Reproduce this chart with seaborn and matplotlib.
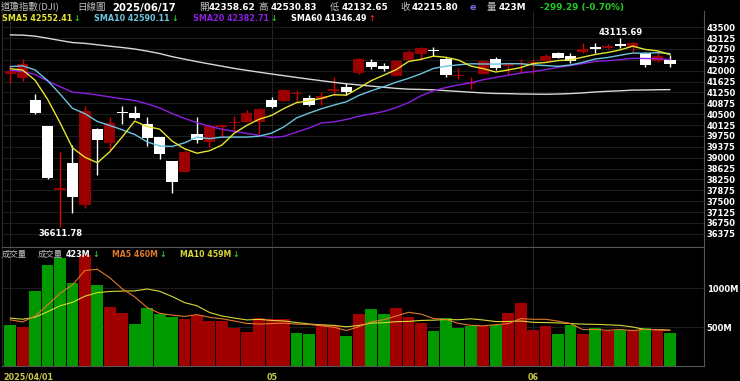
import numpy as np
import pandas as pd
import matplotlib
matplotlib.use("Agg")
import matplotlib.pyplot as plt
import seaborn as sns

# 道瓊指數 日線 2025/04/01 ~ 2025/06/17

tick_pos = [0, 21, 42]
tick_labels = ["2025/04/01", "05", "06"]

# 2025/01/03 ~ 2025/03/31 收盤 (只用來算均線)
prev_close = [42732.13, 42706.56, 42528.36, 42635.20, 41938.45, 42297.12, 42518.28, 43221.55,
              43153.13, 43487.83, 44025.81, 44156.73, 44565.07, 44424.25, 44713.58, 44850.35,
              44713.52, 44882.13, 44544.66,
              44421.91, 44556.04, 44873.28, 44747.63, 44303.40, 44470.41, 44593.65, 44368.56,
              44711.43, 44546.08, 44556.34, 44627.59, 44176.65, 43428.02, 43461.21, 43621.16,
              43433.12, 43239.50, 43840.91,
              43191.24, 42520.99, 43006.59, 42579.08, 42801.72, 41911.71, 41433.48, 41350.93,
              40813.57, 41488.19, 41841.63, 41581.31, 41964.63, 41953.32, 41985.35, 42583.32,
              42587.50, 42454.79, 42299.70, 41583.90, 42001.76]
prev_volume = [650, 700, 600, 620, 620, 640, 580, 600, 629]

opens = [41880, 41750, 40990, 40090, 37880, 38830, 37370, 40000, 39500, 40590,
         40530, 40160, 39720, 38900, 38520, 39820, 39550, 40060, 40180, 40240,
         40240, 40990, 40970, 41200, 41050, 41010, 41300, 41450, 41910, 42300,
         42150, 41820, 42370, 42580, 42720, 42390, 41800, 41550, 41890, 42390,
         42150, 42230, 42250, 42340, 42600, 42510, 42650, 42800, 42780, 42920,
         42800, 42620, 42320, 42358.62]
highs = [42190, 42390, 41200, 40100, 39200, 39440, 40780, 40010, 40390, 40780,
         40780, 40390, 39730, 38900, 39270, 40390, 40160, 40130, 40440, 40640,
         40700, 41100, 41380, 41330, 41160, 41275, 41790, 41560, 42430, 42400,
         42260, 42370, 42700, 42830, 42830, 42460, 42080, 41790, 42370, 42460,
         42260, 42390, 42390, 42560, 42650, 42620, 42940, 42940, 42930, 43115.69,
         42990, 42630, 42650, 42530.83]
lows = [41570, 41650, 40520, 38260, 36611.78, 37100, 37250, 38410, 39260, 40160,
        40320, 39400, 38940, 37800, 38510, 39490, 39380, 39720, 39900, 40230,
        39800, 40700, 40960, 40920, 40780, 40816, 41160, 41160, 41900, 42060,
        42000, 41800, 42360, 42370, 42500, 41790, 41700, 41370, 41880, 42040,
        41850, 41910, 41880, 42320, 42420, 42250, 42620, 42600, 42760, 42770,
        42650, 42110, 42300, 42132.65]
closes = [41989.96, 42225.32, 40545.93, 38314.86, 37965.60, 37645.59, 40608.45, 39593.66,
          40212.71, 40524.79, 40368.96, 39669.39, 39142.23, 38170.41, 39186.98, 39606.57,
          40093.40, 40113.50, 40227.59, 40527.62, 40669.36,
          40752.96, 41317.43, 41218.83, 40829.00, 41113.97, 41368.45, 41249.38, 42410.10,
          42140.43, 42051.06, 42322.75, 42654.74, 42792.07, 42677.24, 41860.44, 41859.09,
          41603.07, 42343.65, 42098.70, 42215.73, 42270.07,
          42305.48, 42519.64, 42427.74, 42319.74, 42762.87, 42761.76, 42866.87, 42865.77,
          42967.62, 42197.79, 42515.09, 42215.80]
# 成交量 (M)
volume = [521, 504, 960, 1301, 1386, 1063, 1430, 1037, 753, 681,
          543, 745, 668, 633, 598, 659, 573, 573, 491, 443,
          616, 607, 598, 430, 417, 534, 513, 388, 668, 736,
          672, 745, 633, 551, 452, 616, 487, 508, 517, 530,
          681, 810, 465, 517, 412, 530, 412, 483, 453, 468,
          464, 485, 460, 423]

# 計算均線
df = pd.DataFrame({"o": opens, "h": highs, "l": lows, "c": closes, "v": volume})
df["x"] = np.arange(len(df))
all_close = pd.Series(prev_close + closes)
npc = len(prev_close)
for n in (5, 10, 20, 60):
    df[f"sma{n}"] = all_close.rolling(n).mean().iloc[npc:].to_numpy()
all_vol = pd.Series(prev_volume + volume)
npv = len(prev_volume)
df["vma5"] = all_vol.rolling(5).mean().iloc[npv:].to_numpy()
df["vma10"] = all_vol.rolling(10).mean().iloc[npv:].to_numpy()
df["chg"] = np.where(all_close.diff().iloc[npc:].to_numpy() > 0, "up", "down")

# 顏色
BODY_RED = "#9a0000"
WICK_RED = "#e00000"
VOL_RED = "#a00000"
VOL_GREEN = "#009a00"
C_SMA5, C_SMA10, C_SMA20, C_SMA60 = "#e5e52e", "#6cc4e0", "#8c1fe0", "#d8d8d8"
C_VMA5, C_VMA10 = "#e07a2a", "#d8d838"
GRAY = "#c0c0c0"
DOWN_G = "#22cc22"

sns.set_theme(style="dark", rc={"axes.facecolor": "black", "figure.facecolor": "black"})
plt.rcParams["font.family"] = ["DejaVu Sans", "Noto Sans CJK TC"]

W, H = 740, 381
fig = plt.figure(figsize=(W / 100, H / 100), dpi=100, facecolor="black")


def fx(x):
    return x / W


def fy(y):
    return 1 - y / H


ax = fig.add_axes([fx(2), fy(247), (704 - 2) / W, (247 - 11) / H])
axv = fig.add_axes([fx(2), fy(366), (704 - 2) / W, (366 - 247) / H])

# K線
up = (df.c >= df.o).to_numpy()
diff = (df.c - df.o).abs()
mid = (df.c + df.o) / 2
body_h = np.maximum(diff, 45)
body_lo = np.where(diff < 45, mid - 22.5, np.minimum(df.o, df.c))
ax.vlines(df.x[up], df.l[up], df.h[up], color=WICK_RED, lw=1.0, zorder=2)
ax.vlines(df.x[~up], df.l[~up], df.h[~up], color="white", lw=1.0, zorder=2)
ax.bar(df.x, body_h, bottom=body_lo, width=0.9, color=np.where(up, BODY_RED, "white"),
       linewidth=0, zorder=3)

for col, c in [("sma60", C_SMA60), ("sma20", C_SMA20), ("sma10", C_SMA10), ("sma5", C_SMA5)]:
    sns.lineplot(data=df, x="x", y=col, color=c, lw=1.0, ax=ax, zorder=4)

ax.annotate("43115.69", xy=(49, 43115.69), xytext=(0, 1), textcoords="offset points",
            ha="center", va="bottom", color="white", fontsize=6, fontweight="bold")
ax.annotate("36611.78", xy=(4, 36611.78), xytext=(0, -1.5), textcoords="offset points",
            ha="center", va="top", color="white", fontsize=6, fontweight="bold")

# 成交量
sns.barplot(data=df, x="x", y="v", hue="chg", palette={"up": VOL_RED, "down": VOL_GREEN},
            native_scale=True, width=0.95, errorbar=None, legend=False, saturation=1,
            linewidth=0, ax=axv)
sns.lineplot(data=df, x="x", y="vma10", color=C_VMA10, lw=0.8, ax=axv, zorder=4)
sns.lineplot(data=df, x="x", y="vma5", color=C_VMA5, lw=0.8, ax=axv, zorder=4)

# 座標軸
ax.set_ylim(35921.8, 44056.7)
ax.set_yticks(np.arange(36375, 43501, 375))
ax.set_yticklabels([str(v) for v in np.arange(36375, 43501, 375)])
axv.set_ylim(0, 1530)
axv.set_yticks([500, 1000])
axv.set_yticklabels(["500M", "1000M"])

for a in (ax, axv):
    a.set_facecolor("black")
    a.set_xlim(-0.66, 55.73)
    a.set_xticks(tick_pos)
    a.yaxis.tick_right()
    a.tick_params(axis="y", colors="white", labelsize=6, length=0, pad=2)
    for lbl in a.get_yticklabels():
        lbl.set_fontweight("bold")
    a.grid(axis="y", color="#1e1e1e", lw=0.7)
    a.grid(axis="x", color="#262626", lw=0.7)
    a.set_xlabel("")
    a.set_ylabel("")
    for s in ("left", "right", "top", "bottom"):
        a.spines[s].set_visible(True)
        a.spines[s].set_linewidth(0.8)
    a.spines["left"].set_color("#2a2a2a")
    a.spines["right"].set_color("#555555")
    a.spines["bottom"].set_color("#555555")
    a.spines["top"].set_color("#555555")
ax.spines["top"].set_visible(False)
ax.tick_params(axis="x", length=0, labelbottom=False)
axv.set_xticklabels(["", tick_labels[1], tick_labels[2]])
axv.tick_params(axis="x", colors="#555555", labelcolor="#c8c84a", labelsize=5.8, length=2, pad=3)
for lbl in axv.get_xticklabels():
    lbl.set_fontweight("bold")
axv.text(-0.55, -0.09, tick_labels[0], transform=axv.get_xaxis_transform(), ha="left",
         va="center", color="#c8c84a", fontsize=5.8, fontweight="bold")

renderer = fig.canvas.get_renderer()


def put(x, y, s, color, size=7, weight="bold", cjk=False):
    fam = ["Noto Sans CJK TC", "DejaVu Sans"] if cjk else ["DejaVu Sans", "Noto Sans CJK TC"]
    t = fig.text(fx(x), fy(y), s, color=color, fontsize=size, fontweight=weight, family=fam,
                 ha="left", va="center")
    return t.get_window_extent(renderer).x1


# 標題列
put(1, 7.5, "道瓊指數(DJI)", GRAY, 6.8, "normal", True)
put(77, 7.5, "日線圖", GRAY, 6.8, "normal", True)
put(112, 7.5, "2025/06/17", "white", 7.3)
for x0, x1, k, v in [(199, 209, "開", "42358.62"), (258, 271, "高", "42530.83"),
                     (330, 342, "低", "42132.65"), (400, 412, "收", "42215.80")]:
    put(x0, 7.5, k, GRAY, 6.8, "normal", True)
    put(x1, 7.5, v, "white", 6.4)
put(470, 7.5, "e", "#7b68ee", 6.8)
put(487, 7.5, "量", GRAY, 6.8, "normal", True)
put(499, 7.5, "423M", "white", 6.4)
put(540, 7.5, "-299.29 (-0.70%)", DOWN_G, 6.4)

# 均線圖例
for x0, s, c, arrow, ac in [(2, "SMA5 42552.41", C_SMA5, "↓", DOWN_G),
                            (94, "SMA10 42590.11", C_SMA10, "↓", DOWN_G),
                            (193, "SMA20 42382.71", C_SMA20, "↓", DOWN_G),
                            (291, "SMA60 41346.49", "white", "↑", "#ff2020")]:
    end = put(x0, 18.5, s, c, 5.8)
    put(end + 1.5, 18.5, arrow, ac, 5.8)

# 成交量圖例
put(2, 254.5, "成交量", GRAY, 6, "normal", True)
put(38, 254.5, "成交量", GRAY, 6, "normal", True)
end = put(66, 254.5, "423M", "white", 5.8)
put(end + 1.5, 254.5, "↓", DOWN_G, 5.8)
end = put(112, 254.5, "MA5 460M", C_VMA5, 5.6)
put(end + 1.5, 254.5, "↓", DOWN_G, 5.8)
end = put(180, 254.5, "MA10 459M", C_VMA10, 5.6)
put(end + 1.5, 254.5, "↓", DOWN_G, 5.8)

fig.savefig("out.png", dpi=100, facecolor="black")
